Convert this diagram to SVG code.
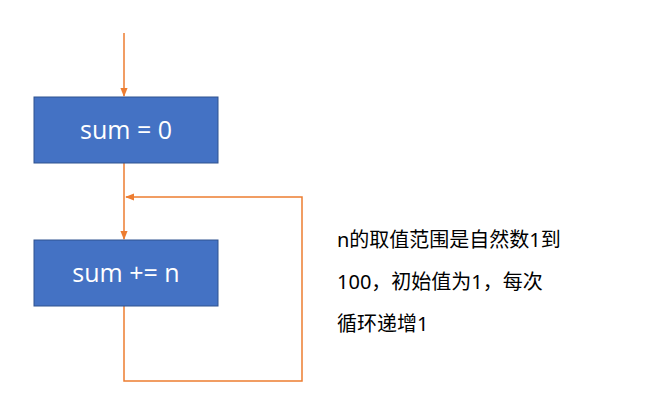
<svg xmlns="http://www.w3.org/2000/svg" width="651" height="407" viewBox="0 0 651 407">
<style>
.box{fill:#4472C4;stroke:#2F528F;stroke-width:1}
.lbl{fill:#fff;font-family:"Open Sans","Noto Sans",sans-serif;font-size:25px;text-anchor:middle}
.c{fill:none;stroke:#ED7D31;stroke-width:1.5}
.note{font-family:"Noto Sans","Noto Sans CJK SC",sans-serif;font-size:20px;fill:#000}
</style>
<defs><marker id="a" viewBox="0 0 10 10" refX="9" refY="5" markerWidth="6" markerHeight="6" orient="auto"><path d="M0,1L10,5L0,9z" fill="#ED7D31"/></marker></defs>
<rect width="651" height="407" fill="#fff"/>
<g id="connectors">
<path class="c" d="M124,33V96" marker-end="url(#a)"/>
<path class="c" d="M124,163V239" marker-end="url(#a)"/>
<path class="c" d="M124,306V381H302V197H126" marker-end="url(#a)"/>
</g>
<g id="n1"><rect class="box" x="34" y="97" width="184" height="66"/><text class="lbl" x="126" y="139">sum = 0</text></g>
<g id="n2"><rect class="box" x="34" y="240" width="184" height="66"/><text class="lbl" x="126" y="282">sum += n</text></g>
<g id="note"><text class="note" x="337" y="247">n的取值范围是自然数1到</text><text class="note" x="337" y="289">100，初始值为1，每次</text><text class="note" x="337" y="331">循环递增1</text></g>
</svg>
